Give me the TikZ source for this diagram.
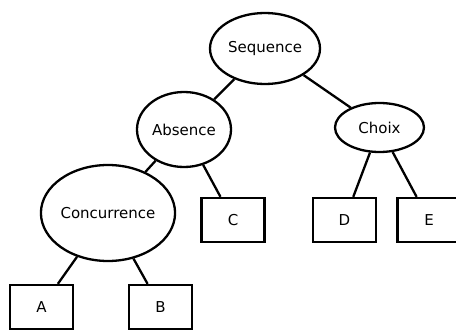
\documentclass[tikz,border=0pt]{standalone}
\usepackage{fontspec}
\setmainfont{DejaVu Sans}
\usetikzlibrary{shapes.geometric}
\begin{document}
\begin{tikzpicture}[x=1pt,y=-1pt,
  every node/.style={font=\fontsize{15}{18}\selectfont, line width=2.3pt, draw, inner sep=0pt},
  ell/.style={ellipse},
  leaf/.style={rectangle, minimum width=63pt, minimum height=44pt},
  edge/.style={line width=2.3pt}]
\useasboundingbox (0,0) rectangle (456,332);
\node[ell, minimum width=110pt, minimum height=71pt] (seq) at (265,48.5) {Sequence};
\node[ell, minimum width=94pt, minimum height=75pt] (abs) at (184,129.5) {Absence};
\node[ell, minimum width=89pt, minimum height=49pt] (cho) at (379.5,127.5) {Choix};
\node[ell, minimum width=126pt, minimum height=96pt] (con) at (108,213) {Concurrence};
\node[leaf] (c) at (233,220) {C};
\node[leaf] (d) at (344.5,220) {D};
\node[leaf] (e) at (429,220) {E};
\node[leaf] (a) at (41.5,307) {A};
\node[leaf] (b) at (160.5,307) {B};
\draw[edge] (seq) -- (abs);
\draw[edge] (seq) -- (cho);
\draw[edge] (abs) -- (con);
\draw[edge] (abs) -- (c);
\draw[edge] (cho) -- (d);
\draw[edge] (cho) -- (e);
\draw[edge] (con) -- (a);
\draw[edge] (con) -- (b);
\end{tikzpicture}
\end{document}
